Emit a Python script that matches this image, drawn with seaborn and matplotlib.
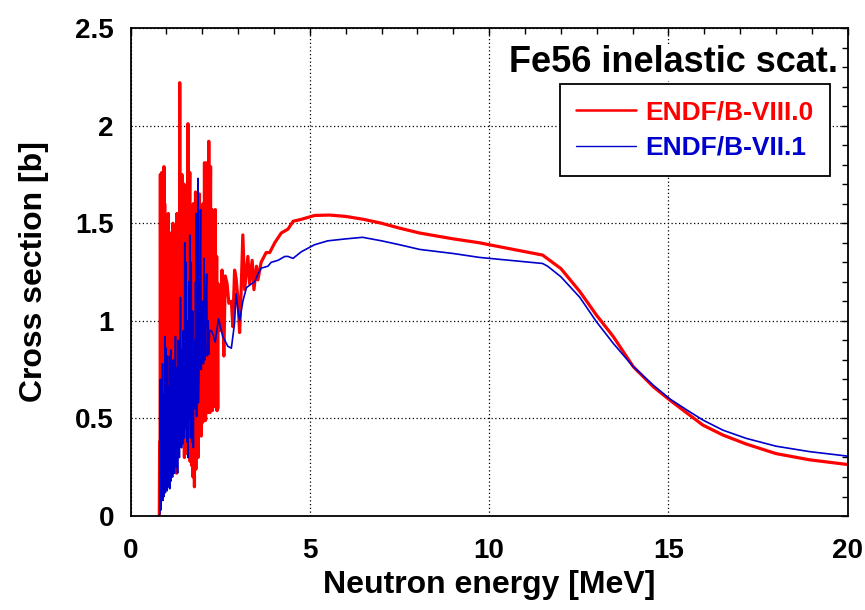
import matplotlib
matplotlib.use('Agg')
import matplotlib.pyplot as plt
import seaborn as sns
from matplotlib.ticker import MultipleLocator

# ENDF/B-VIII.0 (red): resonance region 0.80 - 2.44 MeV
e_viii_res = [
    0.80, 0.81, 0.82, 0.83, 0.84, 0.85, 0.86, 0.87, 0.88, 0.89, 0.90, 0.91, 0.92, 0.93, 0.94,
    0.95, 0.96, 0.97, 0.98, 0.99, 1.00, 1.01, 1.02, 1.03, 1.04, 1.05, 1.06, 1.07, 1.08, 1.09,
    1.10, 1.11, 1.12, 1.13, 1.14, 1.15, 1.16, 1.17, 1.18, 1.19, 1.20, 1.21, 1.22, 1.23, 1.24,
    1.25, 1.26, 1.27, 1.28, 1.29, 1.30, 1.31, 1.32, 1.33, 1.34, 1.35, 1.36, 1.37, 1.38, 1.39,
    1.40, 1.41, 1.42, 1.43, 1.44, 1.45, 1.46, 1.47, 1.48, 1.49, 1.50, 1.51, 1.52, 1.53, 1.54,
    1.55, 1.56, 1.57, 1.58, 1.59, 1.60, 1.61, 1.62, 1.63, 1.64, 1.65, 1.66, 1.67, 1.68, 1.69,
    1.70, 1.71, 1.72, 1.73, 1.74, 1.75, 1.76, 1.77, 1.78, 1.79, 1.80, 1.81, 1.82, 1.83, 1.84,
    1.85, 1.86, 1.87, 1.88, 1.89, 1.90, 1.91, 1.92, 1.93, 1.94, 1.95, 1.96, 1.97, 1.98, 1.99,
    2.00, 2.01, 2.02, 2.03, 2.04, 2.05, 2.06, 2.07, 2.08, 2.09, 2.10, 2.11, 2.12, 2.13, 2.14,
    2.15, 2.16, 2.17, 2.18, 2.19, 2.20, 2.21, 2.22, 2.23, 2.24, 2.25, 2.26, 2.27, 2.28, 2.29,
    2.30, 2.31, 2.32, 2.33, 2.34, 2.35, 2.36, 2.37, 2.38, 2.39, 2.40, 2.41, 2.42, 2.43, 2.44]
xs_viii_res = [
    0.00, 0.38, 0.05, 1.75, 0.08, 1.65, 0.30, 1.76, 0.10, 1.50, 0.55, 1.30, 0.14, 1.79, 0.40,
    1.60, 0.13, 1.20, 0.50, 1.45, 0.18, 1.10, 0.16, 1.38, 0.65, 1.55, 0.20, 1.00, 0.30, 1.25,
    0.22, 0.90, 1.45, 0.25, 1.05, 0.40, 1.20, 0.30, 1.50, 0.60, 1.30, 0.26, 0.95, 1.15, 0.35,
    1.40, 0.50, 1.10, 0.22, 1.55, 0.45, 1.25, 0.40, 1.30, 0.60, 1.20, 0.36, 2.22, 0.50, 1.66,
    0.45, 1.30, 0.70, 1.75, 0.55, 1.10, 0.42, 1.52, 0.80, 1.70, 0.30, 1.25, 0.60, 1.60, 0.32,
    1.00, 0.50, 1.45, 0.38, 1.20, 2.01, 0.70, 1.30, 0.30, 1.45, 1.76, 0.28, 1.10, 0.60, 1.55,
    0.26, 1.35, 0.50, 1.20, 0.20, 1.60, 0.45, 1.30, 0.15, 1.45, 0.70, 1.66, 0.24, 1.20, 0.40,
    1.55, 0.60, 1.35, 0.30, 1.10, 0.41, 1.45, 1.65, 0.60, 1.30, 0.45, 1.20, 0.41, 1.45, 0.80,
    1.40, 0.48, 1.60, 0.70, 1.30, 0.50, 1.81, 0.75, 1.40, 0.49, 1.20, 0.60, 1.81, 0.55, 1.40,
    0.53, 1.60, 0.85, 1.92, 0.55, 1.30, 0.53, 1.50, 1.79, 0.60, 1.30, 0.55, 1.57, 0.54, 1.20,
    0.70, 1.50, 0.56, 1.55, 0.80, 1.30, 1.57, 0.58, 1.20, 0.90, 1.33, 0.54, 1.00, 0.55, 1.19]

# ENDF/B-VIII.0 (red): above 2.44 MeV
e_viii_smooth = [2.47, 2.51, 2.55, 2.60, 2.64, 2.69, 2.74, 2.81, 2.85, 2.90, 2.94, 2.99, 3.04,
                 3.08, 3.13, 3.18, 3.27, 3.32, 3.39, 3.44, 3.51, 3.55, 3.64, 3.78, 3.88, 4.02,
                 4.20, 4.39, 4.53, 4.76, 5.13, 5.55, 6.00, 6.50, 7.00, 7.50, 8.06, 9.00, 9.73,
                 10.00, 11.49, 12.00, 12.53, 12.99, 13.46, 14.02, 14.58, 15.04, 15.50, 15.96,
                 16.52, 17.17, 18.00, 18.94, 20.00]
xs_viii_smooth = [1.05, 0.95, 1.26, 0.82, 1.23, 1.19, 1.09, 1.10, 0.97, 1.26, 1.22, 1.12, 0.94,
                  1.14, 1.44, 1.16, 1.33, 1.19, 1.31, 1.16, 1.28, 1.21, 1.30, 1.35, 1.35, 1.40,
                  1.45, 1.47, 1.51, 1.52, 1.54, 1.542, 1.535, 1.52, 1.50, 1.475, 1.45, 1.42, 1.40,
                  1.39, 1.337, 1.268, 1.15, 1.03, 0.92, 0.765, 0.662, 0.594, 0.53, 0.466,
                  0.415, 0.369, 0.32, 0.288, 0.264]

# ENDF/B-VII.1 (blue): resonance region 0.80 - 1.89 MeV
e_vii_res = [
    0.80, 0.81, 0.82, 0.83, 0.84, 0.85, 0.86, 0.87, 0.88, 0.89, 0.90, 0.91, 0.92, 0.93, 0.94,
    0.95, 0.96, 0.97, 0.98, 0.99, 1.00, 1.01, 1.02, 1.03, 1.04, 1.05, 1.06, 1.07, 1.08, 1.09,
    1.10, 1.11, 1.12, 1.13, 1.14, 1.15, 1.16, 1.17, 1.18, 1.19, 1.20, 1.21, 1.22, 1.23, 1.24,
    1.25, 1.26, 1.27, 1.28, 1.29, 1.30, 1.31, 1.32, 1.33, 1.34, 1.35, 1.36, 1.37, 1.38, 1.39,
    1.40, 1.41, 1.42, 1.43, 1.44, 1.45, 1.46, 1.47, 1.48, 1.49, 1.50, 1.51, 1.52, 1.53, 1.54,
    1.55, 1.56, 1.57, 1.58, 1.59, 1.60, 1.61, 1.62, 1.63, 1.64, 1.65, 1.66, 1.67, 1.68, 1.69,
    1.70, 1.71, 1.72, 1.73, 1.74, 1.75, 1.76, 1.77, 1.78, 1.79, 1.80, 1.81, 1.82, 1.83, 1.84,
    1.85, 1.86, 1.87, 1.88, 1.89]
xs_vii_res = [
    0.00, 0.01, 0.02, 0.70, 0.03, 0.50, 0.08, 0.62, 0.20, 0.78, 0.08, 0.45, 0.62, 0.10, 0.55,
    0.20, 0.92, 0.12, 0.50, 0.86, 0.30, 0.70, 0.13, 0.82, 0.35, 0.60, 0.15, 0.66, 0.40, 0.14,
    0.82, 0.25, 0.85, 0.18, 0.60, 0.30, 0.72, 0.20, 0.55, 0.80, 0.30, 0.65, 0.22, 0.70, 0.40,
    0.92, 0.35, 0.60, 0.25, 0.76, 0.45, 0.22, 0.70, 0.90, 0.40, 0.60, 0.30, 0.75, 0.50, 1.12,
    0.45, 0.80, 0.35, 0.85, 0.55, 0.37, 0.90, 0.95, 0.50, 0.80, 0.40, 1.40, 0.60, 1.00, 0.45,
    1.30, 0.55, 0.38, 0.85, 1.00, 0.30, 0.75, 0.50, 1.20, 0.60, 1.44, 0.70, 0.40, 1.00, 1.30,
    0.55, 0.38, 0.80, 1.05, 0.50, 0.35, 0.65, 0.80, 0.61, 0.90, 0.55, 1.20, 0.70, 1.55, 0.51,
    0.80, 0.60, 1.00, 1.73, 0.58]

# ENDF/B-VII.1 (blue): above 1.89 MeV
e_vii_smooth = [1.92, 1.95, 1.97, 2.00, 2.03, 2.05, 2.07, 2.09, 2.12, 2.14, 2.16, 2.18, 2.20,
                2.25, 2.30, 2.36, 2.45, 2.57, 2.71, 2.81, 2.90, 2.94, 2.99, 3.04, 3.13, 3.23,
                3.37, 3.46, 3.55, 3.64, 3.83, 3.92, 4.11, 4.30, 4.39, 4.53, 4.76, 5.13, 5.50,
                6.00, 6.47, 7.00, 7.50, 8.06, 9.00, 9.73, 11.49, 11.63, 12.00, 12.53, 12.99,
                13.46, 14.02, 14.58, 15.04, 15.50, 15.96, 16.52, 17.17, 18.00, 18.94, 20.00]
xs_vii_smooth = [0.95, 1.57, 0.75, 1.10, 0.78, 1.32, 0.80, 1.05, 1.24, 0.82, 1.00, 0.83, 0.95,
                 0.95, 0.93, 0.89, 1.01, 0.92, 0.87, 0.86, 0.99, 1.14, 1.06, 1.00, 1.10, 1.17,
                 1.19, 1.20, 1.24, 1.27, 1.28, 1.30, 1.31, 1.33, 1.33, 1.32, 1.354, 1.39, 1.41,
                 1.42, 1.428, 1.41, 1.39, 1.366, 1.345, 1.325, 1.294, 1.28, 1.226, 1.12, 0.996,
                 0.885, 0.765, 0.67, 0.60, 0.545, 0.492, 0.44, 0.398, 0.358, 0.33, 0.307]

e_viii = e_viii_res + e_viii_smooth
xs_viii = xs_viii_res + xs_viii_smooth
e_vii = e_vii_res + e_vii_smooth
xs_vii = xs_vii_res + xs_vii_smooth

sns.set_style('white')
plt.rcParams['font.family'] = ['Liberation Sans', 'DejaVu Sans']
plt.rcParams['font.weight'] = 'bold'
plt.rcParams['text.color'] = 'black'
plt.rcParams['axes.labelcolor'] = 'black'
plt.rcParams['xtick.color'] = 'black'
plt.rcParams['ytick.color'] = 'black'

fig = plt.figure(figsize=(8.65, 6.1), dpi=100)
ax = fig.add_axes([0.151, 0.154, 0.829, 0.800])

sns.lineplot(x=e_viii, y=xs_viii, ax=ax, color='#ff0000', linewidth=2.3,
             estimator=None, sort=False, label='ENDF/B-VIII.0')
sns.lineplot(x=e_vii, y=xs_vii, ax=ax, color='#0000cc', linewidth=1.2,
             estimator=None, sort=False, label='ENDF/B-VII.1')

ax.set_xlim(0, 20)
ax.set_ylim(0, 2.5)
ax.xaxis.set_major_locator(MultipleLocator(5))
ax.xaxis.set_minor_locator(MultipleLocator(1))
ax.yaxis.set_major_locator(MultipleLocator(0.5))
ax.yaxis.set_minor_locator(MultipleLocator(0.1))
ax.set_yticks([0, 0.5, 1, 1.5, 2, 2.5])
ax.set_yticklabels(['0', '0.5', '1', '1.5', '2', '2.5'])

ax.tick_params(which='both', direction='in', top=True, right=True, color='black')
ax.tick_params(which='major', length=5, width=1)
ax.tick_params(which='minor', length=4, width=1)
ax.tick_params(axis='x', which='major', labelsize=20, pad=16)
ax.tick_params(axis='y', which='major', labelsize=20, pad=12)
for lab in ax.get_xticklabels() + ax.get_yticklabels():
    lab.set_fontweight('bold')

ax.grid(True, which='major', linestyle=(0, (1, 2)), color='black', linewidth=0.9)
for s in ax.spines.values():
    s.set_color('black')
    s.set_linewidth(1.3)

ax.set_xlabel('Neutron energy [MeV]', fontsize=23, fontweight='bold', labelpad=4)
ax.set_ylabel('Cross section [b]', fontsize=23, fontweight='bold', labelpad=19)

ax.text(0.986, 0.91, 'Fe56 inelastic scat.', transform=ax.transAxes,
        ha='right', va='baseline', fontsize=26, fontweight='bold', zorder=5,
        bbox=dict(facecolor='white', edgecolor='none', pad=1))

leg = ax.legend(loc='upper right', bbox_to_anchor=(0.975, 0.885), borderaxespad=0,
                fancybox=False, framealpha=1, edgecolor='black',
                handlelength=2.3, handletextpad=0.35, borderpad=0.6, labelspacing=0.45,
                prop={'weight': 'bold', 'size': 19})
leg.get_frame().set_linewidth(1.3)
for txt, c in zip(leg.get_texts(), ['#ff0000', '#0000cc']):
    txt.set_color(c)
leg.get_lines()[0].set_linewidth(1.8)
leg.get_lines()[1].set_linewidth(1.0)

fig.savefig('out.png', dpi=100)
